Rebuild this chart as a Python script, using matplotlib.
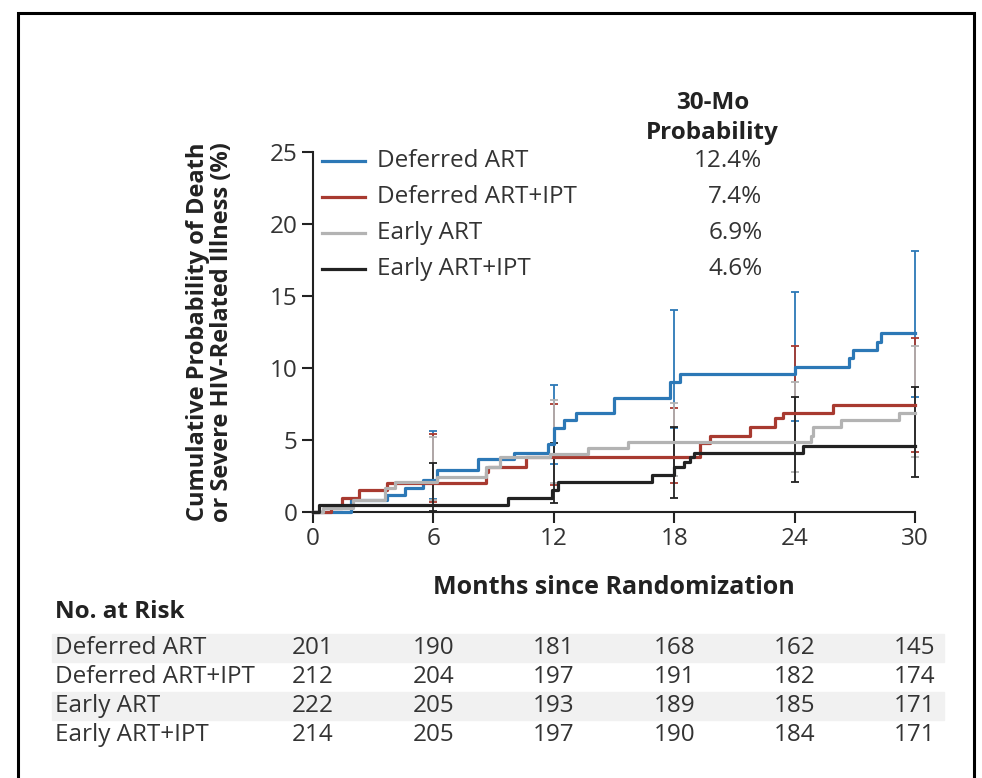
import numpy as np
import matplotlib.pyplot as plt
from matplotlib.patches import Rectangle

plt.rcParams['font.family'] = ['Open Sans', 'DejaVu Sans']

groups = ['Deferred ART', 'Deferred ART+IPT', 'Early ART', 'Early ART+IPT']
colors = ['#2c78b6', '#a83a30', '#b3b3b3', '#222222']
prob_30 = ['12.4%', '7.4%', '6.9%', '4.6%']

# step curves (month, cumulative %)
t_def = [0, 1.9, 3.7, 4.6, 5.5, 6.2, 8.2, 10.0, 11.7, 12.0, 12.5, 13.1, 15.0, 17.8, 18.3, 24.0, 26.7, 26.9, 28.1, 28.3, 30]
v_def = [0, 0.8, 1.2, 1.7, 2.2, 2.9, 3.7, 4.1, 4.7, 5.8, 6.4, 6.9, 7.9, 9.0, 9.6, 10.1, 10.7, 11.25, 11.8, 12.4, 12.4]
t_defipt = [0, 0.9, 1.45, 2.3, 3.7, 8.6, 8.7, 10.6, 19.3, 19.8, 21.8, 23.0, 23.4, 25.9, 30]
v_defipt = [0, 0.3, 1.0, 1.5, 2.0, 2.8, 3.1, 3.8, 4.8, 5.3, 5.9, 6.5, 6.9, 7.4, 7.4]
t_early = [0, 0.5, 2.0, 3.6, 4.1, 6.2, 8.6, 9.3, 11.8, 13.7, 15.7, 24.8, 24.9, 26.3, 29.2, 30]
v_early = [0, 0.3, 0.8, 1.7, 2.1, 2.4, 3.1, 3.8, 4.0, 4.45, 4.85, 5.3, 5.9, 6.4, 6.9, 6.9]
t_earlyipt = [0, 0.3, 9.7, 11.9, 12.2, 16.9, 18.0, 18.5, 18.8, 19.0, 24.4, 30]
v_earlyipt = [0, 0.5, 1.0, 1.5, 2.1, 2.6, 3.1, 3.5, 3.8, 4.1, 4.6, 4.6]

# 95% CI at 6,12,18,24,30 months
ci_months = [6, 12, 18, 24, 30]
ci_def_lo = [0.9, 3.3, 5.8, 6.3, 8.0]
ci_def_hi = [5.6, 8.8, 14.0, 15.3, 18.1]
ci_defipt_lo = [0.7, 1.9, 2.0, 4.0, 4.2]
ci_defipt_hi = [5.4, 7.5, 7.2, 11.5, 12.1]
ci_early_lo = [0.8, 2.0, 2.5, 2.8, 3.8]
ci_early_hi = [5.2, 7.8, 7.6, 9.0, 11.5]
ci_earlyipt_lo = [0.1, 0.6, 1.0, 2.1, 2.4]
ci_earlyipt_hi = [3.4, 4.8, 5.9, 8.0, 8.7]

risk_months = [0, 6, 12, 18, 24, 30]
risk_def = [201, 190, 181, 168, 162, 145]
risk_defipt = [212, 204, 197, 191, 182, 174]
risk_early = [222, 205, 193, 189, 185, 171]
risk_earlyipt = [214, 205, 197, 190, 184, 171]

curves = [(t_def, v_def), (t_defipt, v_defipt), (t_early, v_early), (t_earlyipt, v_earlyipt)]
cis = [(ci_def_lo, ci_def_hi), (ci_defipt_lo, ci_defipt_hi),
       (ci_early_lo, ci_early_hi), (ci_earlyipt_lo, ci_earlyipt_hi)]
risks = [risk_def, risk_defipt, risk_early, risk_earlyipt]

W, H = 982, 778
fs = 17.5
txt = '#333333'
fig = plt.figure(figsize=(W / 100, H / 100), dpi=100)
ax = fig.add_axes([313 / W, 1 - 512 / H, (915 - 313) / W, (512 - 152) / H])

# confidence intervals
for (lo, hi), c in zip(cis, colors):
    lo = np.array(lo)
    hi = np.array(hi)
    mid = (lo + hi) / 2
    ax.errorbar(ci_months, mid, yerr=[mid - lo, hi - mid], fmt='none', ecolor=c,
                elinewidth=1.3, capsize=3, capthick=1.3, zorder=2, clip_on=False)

# curves
for (t, v), c in zip(curves, colors):
    ax.step(t, v, where='post', color=c, lw=2.3, zorder=3, clip_on=False)

ax.set_xlim(0, 30)
ax.set_ylim(0, 25)
ax.set_xticks(risk_months)
ax.set_yticks([0, 5, 10, 15, 20, 25])
for s in ['top', 'right']:
    ax.spines[s].set_visible(False)
for s in ['left', 'bottom']:
    ax.spines[s].set_linewidth(1.5)
    ax.spines[s].set_color('#222222')
ax.tick_params(length=8, width=1.5, color='#222222', labelsize=fs, labelcolor=txt, pad=3)

fig.text(210 / W, 1 - 332 / H, 'Cumulative Probability of Death\nor Severe HIV-Related Illness (%)',
         fontsize=17, fontweight='bold', color='#222222', rotation=90,
         ha='center', va='center', linespacing=1.05)
fig.text(614 / W, 1 - 587 / H, 'Months since Randomization', fontsize=18, fontweight='bold',
         color='#222222', ha='center', va='center')

# legend drawn by hand
leg_y = [24.4, 21.9, 19.4, 16.9]
for g, c, p, y in zip(groups, colors, prob_30, leg_y):
    ax.plot([0.45, 2.6], [y, y], color=c, lw=2.3, clip_on=False)
    ax.text(3.2, y, g, fontsize=fs, color=txt, va='center')
    ax.text(22.4, y, p, fontsize=fs, color=txt, va='center', ha='right')
ax.text(19.9, 28.4, '30-Mo', fontsize=fs, fontweight='bold', color='#222222',
        ha='center', va='center')
ax.text(19.9, 26.3, 'Probability', fontsize=fs, fontweight='bold', color='#222222',
        ha='center', va='center')

# number at risk table
fig.text(55 / W, 1 - 612 / H, 'No. at Risk', fontsize=fs, fontweight='bold',
         color='#222222', va='center')
row_y = [648, 677, 706, 735]
for i, (g, r, yp) in enumerate(zip(groups, risks, row_y)):
    yf = 1 - yp / H
    if i % 2 == 0:
        fig.patches.append(Rectangle((52 / W, 1 - (yp + 14) / H), (944 - 52) / W, 28 / H,
                                     transform=fig.transFigure, color='#f1f1f1', zorder=0))
    fig.text(55 / W, yf, g, fontsize=fs, color=txt, va='center')
    for m, n in zip(risk_months, r):
        fig.text((313 + m * (915 - 313) / 30) / W, yf, str(n), fontsize=fs,
                 color=txt, va='center', ha='center')

# outer frame
fig.patches.append(Rectangle((18 / W, -0.02), (974 - 18) / W, 1.02 - 13 / H,
                             transform=fig.transFigure, fill=False, ec='black', lw=2.2))

fig.savefig('out.png', dpi=100)
